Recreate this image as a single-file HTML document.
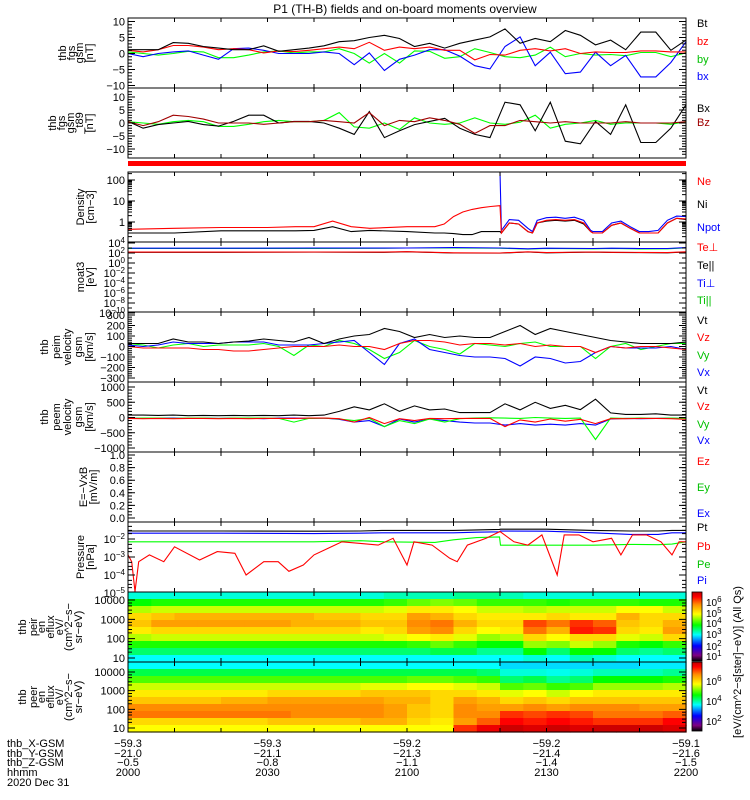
<!DOCTYPE html>
<html><head><meta charset="utf-8"><title>THEMIS P1 overview</title>
<style>
html,body{margin:0;padding:0;background:#fff;}
svg{display:block;font-family:"Liberation Sans",sans-serif;}
.t{font-size:11px;fill:#000;}
.lab{font-size:11px;fill:#000;}
</style></head>
<body>
<svg id="plot" width="750" height="800" viewBox="0 0 750 800" xmlns="http://www.w3.org/2000/svg">
<defs>
<linearGradient id="cbar" x1="0" y1="1" x2="0" y2="0">
<stop offset="0" stop-color="#000"/><stop offset="0.08" stop-color="#800080"/><stop offset="0.22" stop-color="#0000ff"/><stop offset="0.38" stop-color="#00ffff"/><stop offset="0.52" stop-color="#00ff00"/><stop offset="0.68" stop-color="#ffff00"/><stop offset="0.82" stop-color="#ff8c00"/><stop offset="0.93" stop-color="#ff0000"/><stop offset="1" stop-color="#c00000"/>
</linearGradient>
</defs>
<text x="405" y="13" text-anchor="middle" class="t" style="font-size:12px">P1 (TH-B) fields and on-board moments overview</text>
<g id="leftlabels" class="lab" text-anchor="middle">
<g>
<text transform="translate(66,53) rotate(-90)">thb</text><text transform="translate(75,53) rotate(-90)">fgs</text><text transform="translate(83,53) rotate(-90)">gsm</text><text transform="translate(93,53) rotate(-90)">[nT]</text></g>
<g>
<text transform="translate(56,123) rotate(-90)">thb</text><text transform="translate(65,123) rotate(-90)">fgs</text><text transform="translate(74,123) rotate(-90)">gsm</text><text transform="translate(83,123) rotate(-90)">_t89</text><text transform="translate(93,123) rotate(-90)">[nT]</text></g>
<g>
<text transform="translate(84,207) rotate(-90)">Density</text><text transform="translate(94,207) rotate(-90)">[cm−3]</text></g>
<g>
<text transform="translate(84,277) rotate(-90)">moat3</text><text transform="translate(94,277) rotate(-90)">[eV]</text></g>
<g>
<text transform="translate(48,347) rotate(-90)">thb</text><text transform="translate(60,347) rotate(-90)">peim</text><text transform="translate(71,347) rotate(-90)">velocity</text><text transform="translate(82,347) rotate(-90)">gsm</text><text transform="translate(93,347) rotate(-90)">[km/s]</text></g>
<g>
<text transform="translate(48,417) rotate(-90)">thb</text><text transform="translate(60,417) rotate(-90)">peem</text><text transform="translate(71,417) rotate(-90)">velocity</text><text transform="translate(82,417) rotate(-90)">gsm</text><text transform="translate(93,417) rotate(-90)">[km/s]</text></g>
<g>
<text transform="translate(87,487) rotate(-90)">E=−VxB</text><text transform="translate(97,487) rotate(-90)">[mV/m]</text></g>
<g>
<text transform="translate(84,557) rotate(-90)">Pressure</text><text transform="translate(94,557) rotate(-90)">[nPa]</text></g>
<g>
<text transform="translate(26,627) rotate(-90)">thb</text><text transform="translate(37,627) rotate(-90)">peir</text><text transform="translate(45,627) rotate(-90)">en</text><text transform="translate(54,627) rotate(-90)">eflux</text><text transform="translate(63,627) rotate(-90)">eV/</text><text transform="translate(72,627) rotate(-90)">(cm^2−s−</text><text transform="translate(82,627) rotate(-90)">sr−eV)</text></g>
<g>
<text transform="translate(26,697) rotate(-90)">thb</text><text transform="translate(37,697) rotate(-90)">peer</text><text transform="translate(45,697) rotate(-90)">en</text><text transform="translate(54,697) rotate(-90)">eflux</text><text transform="translate(63,697) rotate(-90)">eV/</text><text transform="translate(72,697) rotate(-90)">(cm^2−s−</text><text transform="translate(82,697) rotate(-90)">sr−eV)</text></g>
</g>
<g class="t">
<text x="7" y="747">thb_X-GSM</text><text x="7" y="757">thb_Y-GSM</text><text x="7" y="766">thb_Z-GSM</text><text x="7" y="776">hhmm</text><text x="7" y="786">2020 Dec 31</text>
</g>
<rect x="692" y="592" width="10" height="69" fill="url(#cbar)" stroke="#000" stroke-width="0.8"/>
<rect x="692" y="662" width="10" height="69" fill="url(#cbar)" stroke="#000" stroke-width="0.8"/>
<g class="t" style="font-size:10px">
<text x="706" y="606">10<tspan dy="-4" font-size="8">6</tspan></text>
<text x="706" y="617">10<tspan dy="-4" font-size="8">5</tspan></text>
<text x="706" y="627">10<tspan dy="-4" font-size="8">4</tspan></text>
<text x="706" y="638">10<tspan dy="-4" font-size="8">3</tspan></text>
<text x="706" y="650">10<tspan dy="-4" font-size="8">2</tspan></text>
<text x="706" y="660">10<tspan dy="-4" font-size="8">1</tspan></text>
<text x="706" y="685">10<tspan dy="-4" font-size="8">6</tspan></text>
<text x="706" y="705">10<tspan dy="-4" font-size="8">4</tspan></text>
<text x="706" y="725">10<tspan dy="-4" font-size="8">2</tspan></text>
</g>
<text transform="translate(741,662) rotate(-90)" text-anchor="middle" class="t">[eV/(cm^2−s[ster]−eV)] (All Qs)</text>
<g id="layer"></g>
</svg>
<script>
// ---------- DATA ----------
const majorTickLabels = ["2000","2030","2100","2130","2200"];
const xGsm = ["−59.3","−59.3","−59.2","−59.2","−59.1"];
const yGsm = ["−21.0","−21.1","−21.3","−21.4","−21.6"];
const zGsm = ["−0.5","−0.8","−1.1","−1.4","−1.5"];

const tB = [0,3.24,6.49,9.73,12.97,16.22,19.46,22.7,25.95,29.19,32.43,35.68,38.92,42.16,45.41,48.65,51.89,55.14,58.38,61.62,64.86,68.11,71.35,74.59,77.84,81.08,84.32,87.57,90.81,94.05,97.3,100.54,103.78,107.03,110.27,113.51,116.76,120];
const bt = [1.2,1.2,1.2,3.4,3.2,2.2,1.7,1.2,1.2,2.4,0.7,1.2,1.7,2.4,3.7,4,5,5.7,4.7,2.2,3.2,1.7,3.2,4.2,5.2,7.7,3.2,4.7,3.7,7.2,5.7,2.7,4.2,1.2,6.7,6.7,1.0,4.2];
const bx = [0,-1,0,0.5,0.8,-0.5,-1.8,1.5,1.7,1.0,0,0,0,0.5,0,-3.5,0.2,-5.3,-1.8,-0.5,1.2,1.2,-0.8,-3.8,-4.8,2.2,5.2,-3.8,0.4,-6.3,-5.8,0.4,-3.8,-0.6,-7.3,-7.3,-2.8,3.7];
const bz = [1,0.5,1.2,2.5,2.5,2,1.2,1.5,1.2,0.2,0.8,0.6,1.0,1.5,2.0,1.5,3.5,1.0,2.0,1.5,2.0,1.0,1.0,-2.0,-0.3,-0.5,1.0,1.5,0.8,1.5,0.0,0.5,0.3,0.3,0.8,0.8,0.5,0.5];
const by = [0.5,0,-0.5,0,0.7,0.5,-1.3,-1.3,-0.5,0.5,0.8,0.2,0.5,0.5,1.5,0,-3,0,-3,0.8,0.7,-1.5,-1,1.5,0.3,-1.0,-1.3,-0.5,2.0,-1.0,0,-0.5,-0.3,-0.7,0.3,0.3,-1.0,0.2];
const dBx = [0.6,-2,-0.6,0,0.6,-0.6,-1.2,0.6,3,3,0,0.6,0.6,0,-2,-4.4,4.4,-5.6,-3,-0.6,0.6,1.8,-2,-4.4,-5.6,8,7,-3,8,-7,-8,0.6,-4.4,7,-7.5,-7.5,-2,7];
const dBz = [0.5,-1,0.5,3,2.5,1.5,0,0,0,-0.5,0,0.5,0.5,1,0.5,0,4,-1,1,0.5,2,1,-0.5,-4,-1,-1,1,0.5,0,0.5,0,0,0,0.5,0,0,0,0.5];
const dBy = [0.5,0,-0.5,0.5,1,0.5,-1.3,-1.3,-0.5,0.5,1,0.5,0.5,1,4,-1.5,-2,0,-2.5,2,0,-0.5,0,2.0,0,-0.5,0.3,3,-2,-0.5,0,1,-0.5,0,0,0,-0.5,0.5];

const tDens = [0,10,20,30,36,40,44,48,52,60,66,68,70,72,74,76,78,79.9,80,80.3,82,84,86,87,88,90,92,94,96,98,99.5,100,102,104,106,108,110,112,114,116,118,120];
const ne = [0.45,0.5,0.55,0.55,0.6,0.6,1.1,0.6,0.5,0.6,0.6,0.8,1.8,3,4,4.8,5.5,6,6,0.3,0.9,0.8,0.35,0.3,0.9,1.2,1.3,1.2,1.3,0.9,0.35,0.3,0.3,0.7,0.9,0.5,0.3,0.3,0.3,0.9,1.5,1.4];
const ni = [0.3,0.3,0.38,0.38,0.38,0.4,0.6,0.35,0.4,0.35,0.3,0.3,0.28,0.25,0.25,0.35,0.35,0.35,0.35,0.3,0.9,0.8,0.35,0.3,0.9,1.1,1.2,1.1,1.2,0.8,0.35,0.3,0.3,0.7,0.9,0.5,0.3,0.3,0.3,0.9,1.5,1.3];
const tNpot = [80,80.3,82,84,86,87,88,90,92,94,96,98,99.5,100,102,104,106,108,110,112,114,116,118,120];
const npot = [300,0.4,1.3,1.2,0.5,0.35,1.2,1.6,1.7,1.5,1.7,1.2,0.4,0.35,0.35,0.9,1.1,0.6,0.35,0.35,0.4,1.2,1.9,1.8];

const tTemp = [0,20,40,55,60,70,80,86,90,100,104,110,116,120];
const tePerp = [150,150,160,150,180,110,100,170,120,160,140,130,120,170];
const tePar = [140,140,150,140,170,100,95,160,110,150,130,120,110,160];
const tiPerp = [900,900,950,950,1000,1200,1000,700,900,800,900,800,800,1200];
const tiPar = [800,800,850,900,1000,1000,900,600,800,700,800,650,700,1100];

const vt = [29,29,29,71,43,43,29,43,51,71,57,43,86,29,71,100,114,171,143,86,114,86,100,86,86,143,200,114,171,143,114,86,57,43,29,29,29,43];
const vx = [14,0,14,43,29,29,29,43,43,43,14,14,14,29,43,57,-57,-171,29,71,-29,-57,-86,-100,-100,-114,-186,-100,-114,-157,-143,-57,0,-14,-14,-14,0,-29];
const vy = [29,14,-14,14,29,0,14,14,14,29,0,-86,14,0,57,29,-29,-114,-57,57,0,-29,-71,29,14,0,29,43,0,0,0,-114,0,29,-29,0,29,29];
const vz = [0,-14,-14,-14,-14,-29,-29,-43,-43,-29,-14,0,0,0,14,0,0,-29,29,57,57,43,14,29,29,14,29,0,14,0,0,-57,0,-14,0,0,-14,-29];

const evt = [80,80,70,80,60,70,60,70,60,70,60,80,60,80,200,350,250,450,200,380,250,280,160,160,160,450,250,500,300,400,260,600,150,100,100,120,80,80];
const evx = [-20,-30,-20,-20,-30,-20,-30,-20,-20,-40,-20,-20,-30,-20,-60,-150,-100,-300,-50,-150,-50,-100,-150,-180,-180,-250,-200,-250,-220,-250,-200,-250,-50,-30,-40,-30,-20,-40];
const evy = [-30,-20,-20,-30,-20,-20,-30,-20,-20,-20,-30,-150,-30,-20,-50,-100,-30,-300,-100,-200,-50,-150,-40,-20,-10,-20,-30,0,-20,-30,-20,-720,-20,-30,-20,-30,-20,-30];
const evz = [-30,-40,-30,-40,-30,-30,-40,-30,-40,-30,-30,-30,-20,-20,-40,-150,0,-200,-40,-100,-30,-40,-30,-30,-30,-300,-80,-150,-50,-120,-60,-200,-40,-40,-30,-30,-40,-60];

const tPb = [0,0.8,1.5,2.3,4.6,7.7,10,15.4,19.2,23,25.4,29.2,32.3,34.6,37.7,40,43,46,50,53.8,57,60,61.5,65.4,69.2,70.8,73,77,80,83,86,89,92.3,93.8,97,100,104,106,108.5,111.5,114.6,117,118.5,120];
const pb = [1.3e-3,5.5e-4,1.2e-5,5.5e-4,1.3e-3,5.5e-4,3.7e-3,6.8e-4,2e-3,1.6e-3,1e-4,5.5e-4,5.5e-4,1.6e-4,3.6e-4,1.3e-3,3e-3,7e-3,5.7e-3,4.6e-3,0.011,3.6e-4,7e-3,4.6e-3,8.5e-4,5.5e-4,4.6e-3,0.011,0.026,7e-3,4.6e-3,0.017,1e-4,0.017,0.017,7e-3,0.011,1.3e-3,0.017,0.017,7e-3,1.3e-3,7e-3,7e-3];
const tPres = [0,20,40,50,55,66,70,75,79.9,80.1,90,100,108,114,117,120];
const pt = [0.028,0.028,0.027,0.028,0.03,0.03,0.03,0.032,0.034,0.035,0.035,0.03,0.028,0.028,0.03,0.03];
const pi = [0.021,0.021,0.02,0.021,0.022,0.022,0.022,0.024,0.025,0.028,0.027,0.022,0.018,0.018,0.022,0.022];
const pe = [0.007,0.007,0.007,0.008,0.007,0.0065,0.009,0.012,0.013,0.0045,0.0045,0.0045,0.005,0.0048,0.0052,0.007];

const peirR0 = [3.2,3.2,3.2,3.2,3.2,3.2,3.2,3.2,3.2,3.2,3.2,3.3,3.3,3.3,3.4,3.4,3.3,3.2,3.2,3.2,3.2,3.2,3.2,3.2];
const peirR1 = [3.8,3.9,3.9,3.9,3.9,3.9,3.9,3.9,3.9,3.9,3.9,4.0,4.2,4.3,4.2,4.0,4.0,4.0,3.9,4.0,4.0,4.0,3.9,3.9];
const peirR2 = [4.5,4.6,4.6,4.6,4.6,4.6,4.6,4.6,4.6,4.6,4.6,4.7,4.9,4.9,4.8,4.6,4.6,4.5,4.6,4.6,4.6,4.8,4.8,4.6];
const peirR3 = [5.0,5.1,5.2,5.2,5.2,5.2,5.2,5.2,5.1,5.1,5.0,5.0,5.3,5.2,5.0,4.9,4.9,4.9,5.0,4.9,4.9,5.2,5.0,5.0];
const peirR4 = [5.1,5.3,5.3,5.3,5.3,5.3,5.3,5.2,5.2,5.2,5.1,5.1,5.4,5.5,5.2,5.0,5.0,5.7,5.5,5.8,5.6,5.1,5.0,5.2];
const peirR5 = [4.9,5.0,5.0,5.0,5.0,5.0,5.0,5.0,5.0,5.0,4.9,5.0,5.3,5.4,5.0,4.8,4.9,5.5,5.2,5.9,5.8,5.0,4.9,5.3];
const peirR6 = [4.5,4.6,4.6,4.6,4.6,4.6,4.6,4.6,4.6,4.6,4.6,4.7,4.8,4.9,4.7,4.4,4.5,5.0,4.8,5.0,5.0,4.7,4.6,5.0];
const peirR7 = [3.9,3.9,3.9,3.9,3.9,3.9,3.9,3.9,3.9,3.9,3.9,3.9,4.0,4.2,4.0,3.8,3.8,4.4,4.3,4.6,4.4,3.9,3.8,4.0];
const peirR8 = [3.5,3.5,3.5,3.5,3.5,3.5,3.5,3.5,3.5,3.5,3.5,3.5,3.5,3.6,3.6,3.4,3.4,3.8,3.5,3.8,3.8,3.5,3.4,3.5];
const peirR9 = [3.1,3.1,3.1,3.1,3.1,3.1,3.1,3.1,3.1,3.1,3.1,3.1,3.1,3.1,3.1,3.1,3.1,3.2,3.1,3.3,3.2,3.1,3.1,3.1];

const peerR0 = [3.1,3.1,3.1,3.1,3.1,3.1,3.1,3.1,3.1,3.1,3.1,3.1,3.1,3.1,3.1,3.1,3.0,3.0,3.0,3.0,3.0,3.0,3.05,3.05];
const peerR1 = [3.6,3.6,3.6,3.6,3.6,3.6,3.6,3.6,3.6,3.6,3.6,3.6,3.6,3.6,3.6,3.5,3.2,3.2,3.15,3.2,3.3,3.3,3.3,3.4];
const peerR2 = [4.1,4.1,4.1,4.1,4.1,4.1,4.1,4.1,4.1,4.1,4.1,4.1,4.2,4.2,4.1,4.0,3.5,3.6,3.4,3.5,3.8,3.8,3.8,3.9];
const peerR3 = [4.6,4.6,4.6,4.6,4.6,4.6,4.6,4.6,4.6,4.6,4.7,4.7,4.8,4.8,4.7,4.6,4.1,4.2,4.0,4.1,4.4,4.4,4.4,4.5];
const peerR4 = [4.9,4.9,4.9,4.9,4.9,4.9,5.0,5.0,5.0,5.0,5.1,5.1,5.1,5.0,5.0,4.9,4.7,4.8,4.6,4.8,4.9,4.9,4.9,4.9];
const peerR5 = [5.1,5.1,5.1,5.1,5.2,5.2,5.3,5.3,5.3,5.3,5.3,5.2,5.2,5.0,5.3,5.2,5.0,5.1,5.0,5.1,5.1,5.1,5.1,5.1];
const peerR6 = [5.4,5.4,5.4,5.4,5.4,5.4,5.4,5.4,5.4,5.4,5.4,5.3,5.1,5.0,5.4,5.3,5.3,5.4,5.3,5.4,5.4,5.4,5.3,5.3];
const peerR7 = [5.5,5.5,5.5,5.5,5.5,5.5,5.5,5.4,5.4,5.4,5.4,5.3,5.1,5.0,5.4,5.4,5.8,5.7,5.8,5.7,5.5,5.5,5.5,5.6];
const peerR8 = [5.0,5.0,5.0,5.0,5.0,5.0,5.1,5.1,5.1,5.1,5.2,5.2,5.0,4.9,5.3,5.6,6.0,5.9,6.0,5.9,5.8,5.8,5.8,6.0];
const peerR9 = [4.8,4.8,4.8,4.8,4.8,4.8,4.8,4.8,4.8,4.8,4.8,4.8,4.8,4.8,5.8,6.1,6.3,6.2,6.3,6.2,6.3,6.3,6.3,6.2];

// ---------- RENDER ----------
const NS = "http://www.w3.org/2000/svg";
const layer = document.getElementById("layer");
const X0 = 128, X1 = 686;
const xs = t => X0 + (t / 120) * (X1 - X0);
function el(tag, parent) { const e = document.createElementNS(NS, tag); (parent || layer).appendChild(e); return e; }
function lin(d0, d1, y0, y1) { return v => y0 + (v - d0) * (y1 - y0) / (d1 - d0); }
function logs(l0, l1, y0, y1) { return v => y0 + (Math.log10(v) - l0) * (y1 - y0) / (l1 - l0); }

function series(times, vals, ys, color, name, top, bot) {
  const pts = times.map((t, i) => xs(t).toFixed(1) + "," + Math.max(top, Math.min(bot, ys(vals[i]))).toFixed(1)).join(" ");
  const p = el("polyline");
  p.setAttribute("points", pts);
  p.setAttribute("fill", "none");
  p.setAttribute("stroke", color);
  p.setAttribute("stroke-width", "1.1");
  
  
}

function frame(top, bot, name) {
  const r = el("rect");
  r.setAttribute("x", X0); r.setAttribute("y", top);
  r.setAttribute("width", X1 - X0); r.setAttribute("height", bot - top);
  r.setAttribute("fill", "none"); r.setAttribute("stroke", "#000"); r.setAttribute("stroke-width", "1");
  
  
  for (let m = 10; m < 120; m += 10) {
    const x = xs(m);
    const tk = el("path");
    tk.setAttribute("d", `M${x},${top}v4M${x},${bot}v-4`);
    tk.setAttribute("stroke", "#000");
    
    
  }
}

function yTicks(ys, labels, values, minor, name) {
  values.forEach((v, i) => {
    const y = ys(v);
    const tk = el("path");
    tk.setAttribute("d", `M${X0},${y}h7M${X1},${y}h-7`);
    tk.setAttribute("stroke", "#000");
    
    
    const tx = el("text");
    tx.setAttribute("x", X0 - 3); tx.setAttribute("y", y + 4);
    tx.setAttribute("text-anchor", "end"); tx.setAttribute("class", "t");
    const lab = labels[i];
    if (lab.indexOf("^") >= 0) {
      const [b, e] = lab.split("^");
      tx.textContent = b;
      const sp = document.createElementNS(NS, "tspan");
      sp.setAttribute("dy", "-4"); sp.setAttribute("font-size", "8"); sp.textContent = e;
      tx.appendChild(sp);
    } else tx.textContent = lab;
    
    
  });
  minor.forEach(v => {
    const y = ys(v);
    const tk = el("path");
    tk.setAttribute("d", `M${X0},${y}h4M${X1},${y}h-4`);
    tk.setAttribute("stroke", "#000");
    
    
  });
}

function legend(items) {
  items.forEach(([txt, y, c]) => {
    const t = el("text");
    t.setAttribute("x", 697); t.setAttribute("y", y);
    t.setAttribute("class", "t"); t.style.fill = c;
    t.textContent = txt;
    
    
  });
}
const range = (a, b, s) => { const r = []; for (let v = a; v <= b + 1e-9; v += s) r.push(+v.toFixed(4)); return r; };

let ys = lin(10, -10, 21.5, 85.5);
series(tB, by, ys, "#00ff00", "by-line", 18, 88);
series(tB, bx, ys, "#0000ff", "bx-line", 18, 88);
series(tB, bz, ys, "#ff0000", "bz-line", 18, 88);
series(tB, bt, ys, "#000000", "bt-line", 18, 88);
frame(18, 88, "fgs-gsm-panel");
yTicks(ys, ["10","5","0","−5","−10"], [10,5,0,-5,-10], range(-10,10,1), "fgs-gsm");
legend([["Bt",27,"#000"],["bz",45,"#ff0000"],["by",63,"#00c000"],["bx",80,"#0000ff"]]);

ys = lin(10, -10, 97, 149);
series(tB, dBy, ys, "#00ff00", "dby-line", 88, 158);
series(tB, dBx, ys, "#000000", "dbx-line", 88, 158);
series(tB, dBz, ys, "#a00000", "dbz-line", 88, 158);
frame(88, 158, "fgs-t89-panel");
yTicks(ys, ["10","5","0","−5","−10"], [10,5,0,-5,-10], range(-12,12,1), "fgs-t89");
legend([["Bx",112,"#000"],["Bz",126,"#a00000"]]);

const bar = el("rect");
bar.setAttribute("x", X0); bar.setAttribute("y", 161); bar.setAttribute("width", X1 - X0); bar.setAttribute("height", 5); bar.setAttribute("fill", "#ff0000");



ys = logs(0, 2, 222, 180);
series(tDens, ni, ys, "#000000", "ni-line", 172, 242);
series(tNpot, npot, ys, "#0000ff", "npot-line", 172, 242);
series(tDens, ne, ys, "#ff0000", "ne-line", 172, 242);
frame(172, 242, "density-panel");
yTicks(ys, ["100","10","1"], [100,10,1], [0.2,0.3,0.4,0.5,0.6,0.7,0.8,0.9,2,3,4,5,6,7,8,9,20,30,40,50,60,70,80,90,200], "density");
legend([["Ne",185,"#ff0000"],["Ni",208,"#000"],["Npot",231,"#0000ff"]]);

ys = logs(0, 4, 263, 243);
series(tTemp, tiPar, ys, "#00ff00", "ti-par-line", 242, 312);
series(tTemp, tiPerp, ys, "#0000ff", "ti-perp-line", 242, 312);
series(tTemp, tePar, ys, "#000000", "te-par-line", 242, 312);
series(tTemp, tePerp, ys, "#ff0000", "te-perp-line", 242, 312);
frame(242, 312, "moat3-panel");
yTicks(ys, ["10^4","10^2","10^0","10^−2","10^−4","10^−6","10^−8","10^−10"], [1e4,1e2,1,1e-2,1e-4,1e-6,1e-8,1e-10], [1e3,10,0.1,1e-3,1e-5,1e-7,1e-9], "moat3");
legend([["Te⊥",251,"#ff0000"],["Te||",269,"#000"],["Ti⊥",287,"#0000ff"],["Ti||",304,"#00c000"]]);

ys = lin(300, -300, 315, 378);
series(tB, vy, ys, "#00ff00", "peim-vy-line", 312, 382);
series(tB, vx, ys, "#0000ff", "peim-vx-line", 312, 382);
series(tB, vz, ys, "#ff0000", "peim-vz-line", 312, 382);
series(tB, vt, ys, "#000000", "peim-vt-line", 312, 382);
frame(312, 382, "peim-velocity-panel");
yTicks(ys, ["300","200","100","0","−100","−200","−300"], [300,200,100,0,-100,-200,-300], range(-300,300,20), "peim-velocity");
legend([["Vt",324,"#000"],["Vz",341,"#ff0000"],["Vy",359,"#00c000"],["Vx",376,"#0000ff"]]);

ys = lin(1000, -1000, 387, 448);
series(tB, evt, ys, "#000000", "peem-vt-line", 382, 452);
series(tB, evx, ys, "#0000ff", "peem-vx-line", 382, 452);
series(tB, evy, ys, "#00ff00", "peem-vy-line", 382, 452);
series(tB, evz, ys, "#ff0000", "peem-vz-line", 382, 452);
frame(382, 452, "peem-velocity-panel");
yTicks(ys, ["1000","500","0","−500","−1000"], [1000,500,0,-500,-1000], range(-1000,1000,100), "peem-velocity");
legend([["Vt",394,"#000"],["Vz",410,"#ff0000"],["Vy",428,"#00c000"],["Vx",444,"#0000ff"]]);

ys = lin(1, 0, 455, 518);
frame(452, 522, "efield-panel");
yTicks(ys, ["1.0","0.8","0.6","0.4","0.2","0.0"], [1,0.8,0.6,0.4,0.2,0], range(0,1,0.05), "efield");
legend([["Ez",465,"#ff0000"],["Ey",491,"#00c000"],["Ex",517,"#0000ff"]]);

ys = logs(-2, -3, 539, 557);
series(tPres, pt, ys, "#000000", "pt-line", 522, 592);
series(tPres, pi, ys, "#0000ff", "pi-line", 522, 592);
series(tPres, pe, ys, "#00ff00", "pe-line", 522, 592);
series(tPb, pb, ys, "#ff0000", "pb-line", 522, 592);
frame(522, 592, "pressure-panel");
yTicks(ys, ["10^−2","10^−3","10^−4","10^−5"], [1e-2,1e-3,1e-4,1e-5], [0.05,0.03,0.02,0.005,0.003,0.002,5e-4,3e-4,2e-4,5e-5,3e-5,2e-5], "pressure");
legend([["Pt",531,"#000"],["Pb",550,"#ff0000"],["Pe",568,"#00c000"],["Pi",584,"#0000ff"]]);

const stops = [[1,[0,0,0]],[1.8,[128,0,128]],[2.4,[0,0,255]],[3.1,[0,255,255]],[3.8,[0,255,0]],[4.8,[255,255,0]],[5.4,[255,140,0]],[6.0,[255,0,0]],[6.5,[170,0,0]]];
function cmap(v) {
  if (v <= stops[0][0]) return "rgb(0,0,0)";
  for (let i = 1; i < stops.length; i++) {
    if (v <= stops[i][0]) {
      const [a, ca] = stops[i - 1], [b, cb] = stops[i];
      const f = (v - a) / (b - a);
      return "rgb(" + ca.map((c, k) => Math.round(c + (cb[k] - c) * f)).join(",") + ")";
    }
  }
  return "rgb(170,0,0)";
}
function spectro(rows, top, bot, name) {
  const nr = rows.length, h = (bot - top) / nr;
  rows.forEach((row, r) => {
    const nc = row.length;
    row.forEach((v, c) => {
      const x0 = xs(c * 120 / nc), x1 = xs((c + 1) * 120 / nc);
      const rc = el("rect");
      rc.setAttribute("x", x0.toFixed(1)); rc.setAttribute("y", (top + r * h).toFixed(1));
      rc.setAttribute("width", (x1 - x0 + 0.6).toFixed(1)); rc.setAttribute("height", (h + 0.6).toFixed(1));
      rc.setAttribute("fill", cmap(v));
      
      
    });
  });
}
spectro([peirR0,peirR1,peirR2,peirR3,peirR4,peirR5,peirR6,peirR7,peirR8,peirR9], 592, 662, "peir");
spectro([peerR0,peerR1,peerR2,peerR3,peerR4,peerR5,peerR6,peerR7,peerR8,peerR9], 662, 732, "peer");
ys = logs(1, 4, 658, 600);
frame(592, 662, "peir-panel");
yTicks(ys, ["10000","1000","100","10"], [1e4,1e3,100,10], [20,30,50,70,200,300,500,700,2000,3000,5000,7000], "peir");
ys = logs(1, 4, 728, 672);
frame(662, 732, "peer-panel");
yTicks(ys, ["10000","1000","100","10"], [1e4,1e3,100,10], [20,30,50,70,200,300,500,700,2000,3000,5000,7000], "peer");

majorTickLabels.forEach((lab, i) => {
  const x = xs(i * 30);
  [[xGsm[i],747],[yGsm[i],757],[zGsm[i],766],[lab,776]].forEach(([s, y]) => {
    const t = el("text");
    t.setAttribute("x", x); t.setAttribute("y", y);
    t.setAttribute("text-anchor", "middle"); t.setAttribute("class", "t");
    t.textContent = s;
    
    
  });
});
</script>
</body></html>
